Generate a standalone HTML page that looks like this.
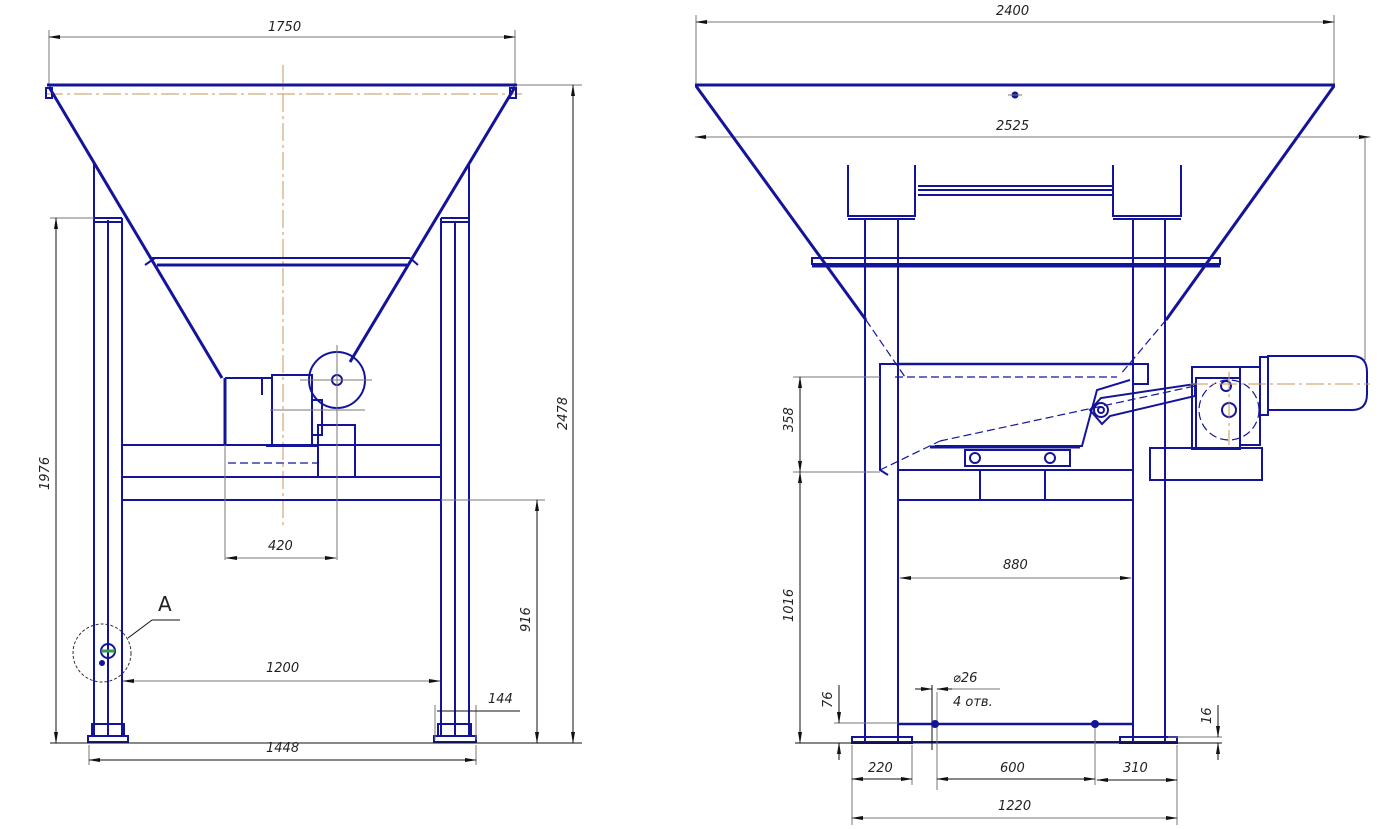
<!DOCTYPE html>
<html><head><meta charset="utf-8"><style>
html,body{margin:0;padding:0;background:#fff;width:1384px;height:829px;overflow:hidden}
svg{display:block}
text{font-family:"DejaVu Sans","Liberation Sans",sans-serif;font-style:italic;font-size:13px;fill:#222}
.b{stroke:#14149a;stroke-width:2;fill:none}
.bt{stroke:#14149a;stroke-width:3;fill:none}
.t{stroke:#777;stroke-width:1;fill:none}
.k{stroke:#111;stroke-width:1;fill:none}
.c{stroke:#c9955a;stroke-width:1;fill:none;stroke-dasharray:18 4 3 4}
.d{stroke:#14149a;stroke-width:1.2;fill:none;stroke-dasharray:8 4}
</style></head><body>
<svg width="1384" height="829" viewBox="0 0 1384 829" xmlns="http://www.w3.org/2000/svg">
<defs><marker id="a" markerWidth="12" markerHeight="6" refX="11" refY="3" orient="auto-start-reverse" markerUnits="userSpaceOnUse"><path d="M0,1 L12,3 L0,5 z" fill="#111"/></marker></defs>

<!-- ========== LEFT VIEW ========== -->
<!-- dim 1750 -->
<line class="t" x1="49" y1="30" x2="49" y2="85"/><line class="t" x1="515" y1="30" x2="515" y2="85"/>
<line class="t" x1="49" y1="37" x2="515" y2="37" marker-start="url(#a)" marker-end="url(#a)"/>
<text x="268" y="31">1750</text>
<!-- centerline -->
<line class="c" x1="283" y1="65" x2="283" y2="525"/>
<line class="c" x1="45" y1="94" x2="522" y2="94"/>
<!-- hopper -->
<line class="bt" x1="47" y1="85" x2="517" y2="85"/>
<rect class="b" x="46" y="88" width="6" height="10"/><rect class="b" x="510" y="88" width="6" height="10"/>
<line class="bt" x1="49" y1="87" x2="222" y2="378"/>
<line class="bt" x1="515" y1="87" x2="350" y2="362"/>
<line class="b" x1="152" y1="258" x2="410" y2="258"/>
<line class="bt" x1="157" y1="265" x2="407" y2="265"/>
<line class="b" x1="145" y1="265" x2="155" y2="258"/><line class="b" x1="410" y1="258" x2="418" y2="265"/>
<!-- legs -->
<g class="b">
<line x1="94" y1="163" x2="94" y2="735"/><line x1="108" y1="220" x2="108" y2="735"/><line x1="122" y1="218" x2="122" y2="735"/>
<line x1="94" y1="218" x2="122" y2="218"/><line x1="94" y1="222" x2="122" y2="222"/>
<line x1="441" y1="218" x2="441" y2="735"/><line x1="455" y1="222" x2="455" y2="735"/><line x1="469" y1="163" x2="469" y2="735"/>
<line x1="441" y1="218" x2="469" y2="218"/><line x1="441" y1="222" x2="469" y2="222"/>
<rect x="92" y="724" width="32" height="12"/><rect x="88" y="736" width="40" height="6"/>
<rect x="438" y="724" width="33" height="12"/><rect x="434" y="736" width="42" height="6"/>
<line x1="122" y1="445" x2="441" y2="445"/><line x1="122" y1="477" x2="441" y2="477"/><line x1="122" y1="500" x2="441" y2="500"/>
<!-- bottom unit -->
<line x1="225" y1="378" x2="225" y2="445" stroke-width="3"/>
<line x1="225" y1="378" x2="272" y2="378"/>
<line x1="262" y1="378" x2="262" y2="395"/>
<rect x="272" y="375" width="40" height="70"/>
<rect x="312" y="400" width="10" height="35"/>
<circle cx="337" cy="380" r="28"/>
<circle cx="337" cy="380" r="5"/>
<rect x="318" y="425" width="37" height="52"/>
<line x1="266" y1="446" x2="318" y2="446"/>
</g>
<line class="t" x1="300" y1="380" x2="372" y2="380"/><line class="t" x1="337" y1="345" x2="337" y2="560"/>
<line class="t" x1="270" y1="410" x2="365" y2="410"/>
<line class="t" x1="225" y1="445" x2="225" y2="560"/>
<line class="d" x1="228" y1="463" x2="318" y2="463"/>
<!-- dims left -->
<line class="t" x1="50" y1="218" x2="94" y2="218"/>
<line class="k" x1="56" y1="218" x2="56" y2="743" marker-start="url(#a)" marker-end="url(#a)"/>
<text transform="translate(49,490) rotate(-90)">1976</text>
<line class="k" x1="50" y1="743" x2="582" y2="743"/>
<line class="t" x1="517" y1="85" x2="582" y2="85"/>
<line class="k" x1="573" y1="85" x2="573" y2="743" marker-start="url(#a)" marker-end="url(#a)"/>
<text transform="translate(567,430) rotate(-90)">2478</text>
<line class="t" x1="441" y1="500" x2="545" y2="500"/>
<line class="k" x1="537" y1="500" x2="537" y2="743" marker-start="url(#a)" marker-end="url(#a)"/>
<text transform="translate(530,632) rotate(-90)">916</text>
<line class="t" x1="226" y1="558" x2="336" y2="558" marker-start="url(#a)" marker-end="url(#a)"/>
<text x="268" y="550">420</text>
<line class="t" x1="123" y1="681" x2="440" y2="681" marker-start="url(#a)" marker-end="url(#a)"/>
<text x="266" y="672">1200</text>
<line class="t" x1="435" y1="705" x2="435" y2="740"/><line class="t" x1="476" y1="705" x2="476" y2="740"/>
<line class="k" x1="437" y1="711" x2="520" y2="711"/>
<text x="488" y="703">144</text>
<line class="t" x1="89" y1="745" x2="89" y2="765"/><line class="t" x1="476" y1="745" x2="476" y2="765"/>
<line class="k" x1="89" y1="760" x2="476" y2="760" marker-start="url(#a)" marker-end="url(#a)"/>
<text x="266" y="752">1448</text>
<!-- detail A -->
<circle cx="102" cy="653" r="29" stroke="#333" stroke-width="1" fill="none" stroke-dasharray="3 2"/>
<circle cx="108" cy="651" r="7" class="b"/><line x1="101" y1="651" x2="115" y2="651" stroke="#3a9a4a" stroke-width="3"/>
<circle cx="102" cy="663" r="3" fill="#14149a"/>
<line class="k" x1="128" y1="638" x2="152" y2="620"/><line class="k" x1="152" y1="620" x2="180" y2="620"/>
<text x="158" y="611" style="font-style:normal;font-size:20px">A</text>

<!-- ========== RIGHT VIEW ========== -->
<line class="t" x1="696" y1="15" x2="696" y2="85"/><line class="t" x1="1334" y1="15" x2="1334" y2="85"/>
<line class="t" x1="696" y1="22" x2="1334" y2="22" marker-start="url(#a)" marker-end="url(#a)"/>
<text x="996" y="15">2400</text>
<line class="bt" x1="695" y1="85" x2="1335" y2="85"/>
<circle cx="1015" cy="95" r="3.5" fill="#14149a"/>
<line class="t" x1="1008" y1="95" x2="1022" y2="95"/>
<line class="t" x1="695" y1="137" x2="1370" y2="137" marker-start="url(#a)" marker-end="url(#a)"/>
<text x="996" y="130">2525</text>
<line class="t" x1="1365" y1="137" x2="1365" y2="360"/>
<line class="bt" x1="696" y1="86" x2="866" y2="320"/>
<line class="bt" x1="1334" y1="86" x2="1166" y2="320"/>
<g class="b">
<!-- upper boxes -->
<polyline points="848,165 848,216 915,216 915,165"/><line x1="848" y1="219" x2="915" y2="219"/>
<polyline points="1113,165 1113,216 1181,216 1181,165"/><line x1="1113" y1="219" x2="1181" y2="219"/>
<line x1="918" y1="186" x2="1113" y2="186"/><line x1="918" y1="190" x2="1113" y2="190"/><line x1="918" y1="195" x2="1113" y2="195"/>
<!-- rim -->
<rect x="812" y="258" width="408" height="6"/>
<line x1="812" y1="266" x2="1220" y2="266" stroke-width="3"/>
<!-- legs -->
<line x1="865" y1="220" x2="865" y2="742"/><line x1="898" y1="220" x2="898" y2="742"/>
<line x1="1133" y1="220" x2="1133" y2="742"/><line x1="1165" y1="220" x2="1165" y2="742"/>
<!-- trough -->
<line x1="898" y1="364" x2="1133" y2="364" stroke-width="2.5"/>
<polyline points="898,364 880,364 880,470 888,475"/>
<rect x="1133" y="364" width="15" height="20"/>
<polyline points="935,446 1082,446 1097,390 1130,380"/>
<line x1="930" y1="447" x2="1080" y2="447" stroke-width="3"/>
<rect x="965" y="450" width="105" height="16"/>
<circle cx="975" cy="458" r="5"/><circle cx="1050" cy="458" r="5"/>
<line x1="898" y1="470" x2="1133" y2="470"/>
<line x1="980" y1="470" x2="980" y2="500"/><line x1="1045" y1="470" x2="1045" y2="500"/>
<line x1="898" y1="500" x2="1133" y2="500"/>
<polygon points="1090,410 1101,398 1195,384 1195,396 1110,416 1102,424"/>
<circle cx="1101" cy="410" r="7"/><circle cx="1101" cy="410" r="3"/>
<!-- gearbox + motor -->
<rect x="1192" y="367" width="48" height="82"/>
<rect x="1196" y="378" width="44" height="70"/>
<rect x="1240" y="367" width="20" height="78"/>
<rect x="1260" y="357" width="8" height="58"/>
<path d="M1268,356 H1352 Q1367,356 1367,372 V394 Q1367,410 1352,410 H1268 Z"/>
<circle cx="1226" cy="386" r="5"/><circle cx="1229" cy="410" r="7"/>
<rect x="1150" y="448" width="112" height="32"/>
<!-- base -->
<line x1="898" y1="724" x2="1133" y2="724" stroke-width="2.5"/>
<line x1="852" y1="742" x2="1177" y2="742"/>
<rect x="852" y="737" width="60" height="6"/><rect x="1120" y="737" width="57" height="6"/>
</g>
<line class="d" x1="866" y1="320" x2="905" y2="377"/>
<line class="d" x1="1166" y1="320" x2="1120" y2="375"/>
<polyline class="d" points="895,377 1117,377"/>
<line class="d" x1="880" y1="470" x2="940" y2="441"/>
<line class="d" x1="940" y1="441" x2="1195" y2="386"/>
<circle class="d" cx="1229" cy="410" r="30"/>
<line class="c" x1="1190" y1="384" x2="1370" y2="384"/>
<line class="c" x1="1229" y1="372" x2="1229" y2="445"/>
<!-- right dims -->
<line class="t" x1="793" y1="377" x2="880" y2="377"/><line class="t" x1="793" y1="472" x2="880" y2="472"/>
<line class="k" x1="800" y1="377" x2="800" y2="472" marker-start="url(#a)" marker-end="url(#a)"/>
<text transform="translate(793,432) rotate(-90)">358</text>
<line class="k" x1="800" y1="472" x2="800" y2="743" marker-start="url(#a)" marker-end="url(#a)"/>
<text transform="translate(793,622) rotate(-90)">1016</text>
<line class="k" x1="795" y1="743" x2="1222" y2="743"/>
<line class="t" x1="900" y1="578" x2="1131" y2="578" marker-start="url(#a)" marker-end="url(#a)"/>
<text x="1003" y="569">880</text>
<line class="t" x1="834" y1="723" x2="898" y2="723"/>
<line class="k" x1="839" y1="685" x2="839" y2="723" marker-end="url(#a)"/>
<line class="k" x1="839" y1="760" x2="839" y2="743" marker-end="url(#a)"/>
<text transform="translate(832,708) rotate(-90)">76</text>
<line class="t" x1="1168" y1="737" x2="1222" y2="737"/>
<line class="k" x1="1218" y1="705" x2="1218" y2="737" marker-end="url(#a)"/>
<line class="k" x1="1218" y1="760" x2="1218" y2="743" marker-end="url(#a)"/>
<text transform="translate(1211,724) rotate(-90)">16</text>
<line class="k" x1="932" y1="685" x2="932" y2="750"/><line class="t" x1="937" y1="692" x2="937" y2="790"/>
<line class="k" x1="915" y1="689" x2="932" y2="689" marker-end="url(#a)"/>
<line class="k" x1="952" y1="689" x2="937" y2="689" marker-end="url(#a)"/>
<line class="t" x1="952" y1="689" x2="1000" y2="689"/>
<text x="953" y="682">⌀26</text>
<text x="953" y="706">4 отв.</text>
<circle cx="935" cy="724" r="4" fill="#14149a"/><circle cx="1095" cy="724" r="4" fill="#14149a"/>
<line class="t" x1="852" y1="745" x2="852" y2="825"/><line class="t" x1="912" y1="745" x2="912" y2="785"/>
<line class="t" x1="1095" y1="728" x2="1095" y2="785"/><line class="t" x1="1177" y1="745" x2="1177" y2="825"/>
<line class="k" x1="852" y1="779" x2="912" y2="779" marker-start="url(#a)" marker-end="url(#a)"/>
<text x="868" y="772">220</text>
<line class="k" x1="937" y1="779" x2="1095" y2="779" marker-start="url(#a)" marker-end="url(#a)"/>
<text x="1000" y="772">600</text>
<line class="k" x1="1097" y1="780" x2="1177" y2="780" marker-start="url(#a)" marker-end="url(#a)"/>
<text x="1123" y="772">310</text>
<line class="t" x1="852" y1="818" x2="1177" y2="818" marker-start="url(#a)" marker-end="url(#a)"/>
<text x="998" y="810">1220</text>
</svg>
</body></html>
